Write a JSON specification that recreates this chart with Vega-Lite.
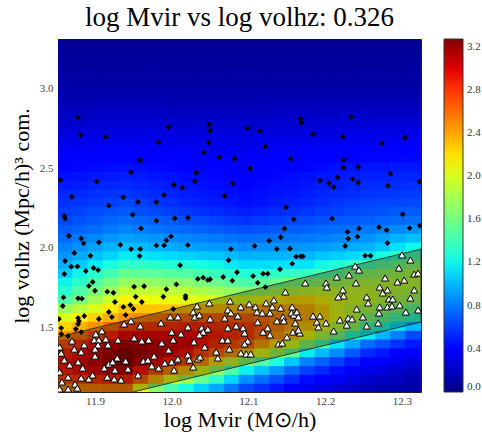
{
"$schema":"https://vega.github.io/schema/vega-lite/v6.json",
"width":363,"height":353,
"autosize":"none",
"padding":{"left":58,"top":39,"right":61,"bottom":40},
"background":"white",
"title":{"text":"log Mvir vs log volhz: 0.326","font":"Liberation Serif","fontSize":27,"fontWeight":"normal","color":"black","offset":7,"anchor":"middle"},
"config":{"view":{"stroke":"#222","strokeWidth":1},"axis":{"grid":false,"domain":false}},
"datasets":{
"grid":[
{"x":11.862,"y":1.122,"z":2.49},{"x":11.881,"y":1.122,"z":2.5},{"x":11.901,"y":1.122,"z":2.52},{"x":11.921,"y":1.122,"z":2.54},{"x":11.941,"y":1.122,"z":2.55},{"x":11.96,"y":1.122,"z":2.1},{"x":11.98,"y":1.122,"z":1.7},{"x":12,"y":1.122,"z":1.45},{"x":12.019,"y":1.122,"z":1.25},{"x":12.039,"y":1.122,"z":1.1},{"x":12.059,"y":1.122,"z":0.95},{"x":12.079,"y":1.122,"z":0.79},{"x":12.098,"y":1.122,"z":0.64},{"x":12.118,"y":1.122,"z":0.56},{"x":12.138,"y":1.122,"z":0.48},{"x":12.157,"y":1.122,"z":0.4},{"x":12.177,"y":1.122,"z":0.32},{"x":12.197,"y":1.122,"z":0.28},{"x":12.216,"y":1.122,"z":0.24},{"x":12.236,"y":1.122,"z":0.2},{"x":12.256,"y":1.122,"z":0.16},{"x":12.276,"y":1.122,"z":0.14},{"x":12.295,"y":1.122,"z":0.13},{"x":12.315,"y":1.122,"z":0.11},
{"x":11.862,"y":1.177,"z":2.72},{"x":11.881,"y":1.177,"z":2.76},{"x":11.901,"y":1.177,"z":2.79},{"x":11.921,"y":1.177,"z":2.83},{"x":11.941,"y":1.177,"z":2.86},{"x":11.96,"y":1.177,"z":2.6},{"x":11.98,"y":1.177,"z":2.33},{"x":12,"y":1.177,"z":2.07},{"x":12.019,"y":1.177,"z":1.8},{"x":12.039,"y":1.177,"z":1.57},{"x":12.059,"y":1.177,"z":1.34},{"x":12.079,"y":1.177,"z":1.1},{"x":12.098,"y":1.177,"z":0.87},{"x":12.118,"y":1.177,"z":0.76},{"x":12.138,"y":1.177,"z":0.66},{"x":12.157,"y":1.177,"z":0.55},{"x":12.177,"y":1.177,"z":0.44},{"x":12.197,"y":1.177,"z":0.39},{"x":12.216,"y":1.177,"z":0.33},{"x":12.236,"y":1.177,"z":0.28},{"x":12.256,"y":1.177,"z":0.22},{"x":12.276,"y":1.177,"z":0.19},{"x":12.295,"y":1.177,"z":0.17},{"x":12.315,"y":1.177,"z":0.14},
{"x":11.862,"y":1.233,"z":2.86},{"x":11.881,"y":1.233,"z":2.92},{"x":11.901,"y":1.233,"z":2.98},{"x":11.921,"y":1.233,"z":3.04},{"x":11.941,"y":1.233,"z":3.1},{"x":11.96,"y":1.233,"z":2.9},{"x":11.98,"y":1.233,"z":2.7},{"x":12,"y":1.233,"z":2.5},{"x":12.019,"y":1.233,"z":2.3},{"x":12.039,"y":1.233,"z":2.02},{"x":12.059,"y":1.233,"z":1.74},{"x":12.079,"y":1.233,"z":1.46},{"x":12.098,"y":1.233,"z":1.18},{"x":12.118,"y":1.233,"z":1.04},{"x":12.138,"y":1.233,"z":0.9},{"x":12.157,"y":1.233,"z":0.75},{"x":12.177,"y":1.233,"z":0.61},{"x":12.197,"y":1.233,"z":0.53},{"x":12.216,"y":1.233,"z":0.45},{"x":12.236,"y":1.233,"z":0.37},{"x":12.256,"y":1.233,"z":0.29},{"x":12.276,"y":1.233,"z":0.26},{"x":12.295,"y":1.233,"z":0.22},{"x":12.315,"y":1.233,"z":0.19},
{"x":11.862,"y":1.288,"z":2.9},{"x":11.881,"y":1.288,"z":2.98},{"x":11.901,"y":1.288,"z":3.06},{"x":11.921,"y":1.288,"z":3.14},{"x":11.941,"y":1.288,"z":3.22},{"x":11.96,"y":1.288,"z":3.09},{"x":11.98,"y":1.288,"z":2.96},{"x":12,"y":1.288,"z":2.83},{"x":12.019,"y":1.288,"z":2.7},{"x":12.039,"y":1.288,"z":2.45},{"x":12.059,"y":1.288,"z":2.2},{"x":12.079,"y":1.288,"z":1.95},{"x":12.098,"y":1.288,"z":1.7},{"x":12.118,"y":1.288,"z":1.48},{"x":12.138,"y":1.288,"z":1.27},{"x":12.157,"y":1.288,"z":1.05},{"x":12.177,"y":1.288,"z":0.83},{"x":12.197,"y":1.288,"z":0.72},{"x":12.216,"y":1.288,"z":0.61},{"x":12.236,"y":1.288,"z":0.5},{"x":12.256,"y":1.288,"z":0.39},{"x":12.276,"y":1.288,"z":0.35},{"x":12.295,"y":1.288,"z":0.3},{"x":12.315,"y":1.288,"z":0.26},
{"x":11.862,"y":1.344,"z":2.84},{"x":11.881,"y":1.344,"z":2.94},{"x":11.901,"y":1.344,"z":3.04},{"x":11.921,"y":1.344,"z":3.13},{"x":11.941,"y":1.344,"z":3.23},{"x":11.96,"y":1.344,"z":3.15},{"x":11.98,"y":1.344,"z":3.08},{"x":12,"y":1.344,"z":3},{"x":12.019,"y":1.344,"z":2.92},{"x":12.039,"y":1.344,"z":2.72},{"x":12.059,"y":1.344,"z":2.6},{"x":12.079,"y":1.344,"z":2.45},{"x":12.098,"y":1.344,"z":2.3},{"x":12.118,"y":1.344,"z":2.05},{"x":12.138,"y":1.344,"z":1.8},{"x":12.157,"y":1.344,"z":1.55},{"x":12.177,"y":1.344,"z":1.17},{"x":12.197,"y":1.344,"z":1.01},{"x":12.216,"y":1.344,"z":0.86},{"x":12.236,"y":1.344,"z":0.7},{"x":12.256,"y":1.344,"z":0.54},{"x":12.276,"y":1.344,"z":0.48},{"x":12.295,"y":1.344,"z":0.41},{"x":12.315,"y":1.344,"z":0.35},
{"x":11.862,"y":1.399,"z":2.68},{"x":11.881,"y":1.399,"z":2.79},{"x":11.901,"y":1.399,"z":2.91},{"x":11.921,"y":1.399,"z":3.02},{"x":11.941,"y":1.399,"z":3.13},{"x":11.96,"y":1.399,"z":3.1},{"x":11.98,"y":1.399,"z":3.06},{"x":12,"y":1.399,"z":3.03},{"x":12.019,"y":1.399,"z":2.99},{"x":12.039,"y":1.399,"z":2.9},{"x":12.059,"y":1.399,"z":2.8},{"x":12.079,"y":1.399,"z":2.7},{"x":12.098,"y":1.399,"z":2.6},{"x":12.118,"y":1.399,"z":2.4},{"x":12.138,"y":1.399,"z":2.2},{"x":12.157,"y":1.399,"z":2},{"x":12.177,"y":1.399,"z":1.7},{"x":12.197,"y":1.399,"z":1.45},{"x":12.216,"y":1.399,"z":1.14},{"x":12.236,"y":1.399,"z":0.95},{"x":12.256,"y":1.399,"z":0.76},{"x":12.276,"y":1.399,"z":0.67},{"x":12.295,"y":1.399,"z":0.57},{"x":12.315,"y":1.399,"z":0.48},
{"x":11.862,"y":1.455,"z":2.44},{"x":11.881,"y":1.455,"z":2.57},{"x":11.901,"y":1.455,"z":2.7},{"x":11.921,"y":1.455,"z":2.83},{"x":11.941,"y":1.455,"z":2.96},{"x":11.96,"y":1.455,"z":2.96},{"x":11.98,"y":1.455,"z":2.96},{"x":12,"y":1.455,"z":2.96},{"x":12.019,"y":1.455,"z":2.96},{"x":12.039,"y":1.455,"z":2.92},{"x":12.059,"y":1.455,"z":2.86},{"x":12.079,"y":1.455,"z":2.8},{"x":12.098,"y":1.455,"z":2.75},{"x":12.118,"y":1.455,"z":2.6},{"x":12.138,"y":1.455,"z":2.45},{"x":12.157,"y":1.455,"z":2.28},{"x":12.177,"y":1.455,"z":2.1},{"x":12.197,"y":1.455,"z":1.85},{"x":12.216,"y":1.455,"z":1.65},{"x":12.236,"y":1.455,"z":1.34},{"x":12.256,"y":1.455,"z":1.17},{"x":12.276,"y":1.455,"z":0.99},{"x":12.295,"y":1.455,"z":0.82},{"x":12.315,"y":1.455,"z":0.64},
{"x":11.862,"y":1.51,"z":2.24},{"x":11.881,"y":1.51,"z":2.36},{"x":11.901,"y":1.51,"z":2.48},{"x":11.921,"y":1.51,"z":2.6},{"x":11.941,"y":1.51,"z":2.72},{"x":11.96,"y":1.51,"z":2.75},{"x":11.98,"y":1.51,"z":2.78},{"x":12,"y":1.51,"z":2.8},{"x":12.019,"y":1.51,"z":2.83},{"x":12.039,"y":1.51,"z":2.82},{"x":12.059,"y":1.51,"z":2.8},{"x":12.079,"y":1.51,"z":2.77},{"x":12.098,"y":1.51,"z":2.75},{"x":12.118,"y":1.51,"z":2.63},{"x":12.138,"y":1.51,"z":2.52},{"x":12.157,"y":1.51,"z":2.4},{"x":12.177,"y":1.51,"z":2.28},{"x":12.197,"y":1.51,"z":2.1},{"x":12.216,"y":1.51,"z":1.9},{"x":12.236,"y":1.51,"z":1.72},{"x":12.256,"y":1.51,"z":1.43},{"x":12.276,"y":1.51,"z":1.29},{"x":12.295,"y":1.51,"z":1.14},{"x":12.315,"y":1.51,"z":1},
{"x":11.862,"y":1.566,"z":2.02},{"x":11.881,"y":1.566,"z":2.13},{"x":11.901,"y":1.566,"z":2.25},{"x":11.921,"y":1.566,"z":2.36},{"x":11.941,"y":1.566,"z":2.47},{"x":11.96,"y":1.566,"z":2.51},{"x":11.98,"y":1.566,"z":2.54},{"x":12,"y":1.566,"z":2.58},{"x":12.019,"y":1.566,"z":2.61},{"x":12.039,"y":1.566,"z":2.62},{"x":12.059,"y":1.566,"z":2.62},{"x":12.079,"y":1.566,"z":2.62},{"x":12.098,"y":1.566,"z":2.62},{"x":12.118,"y":1.566,"z":2.56},{"x":12.138,"y":1.566,"z":2.5},{"x":12.157,"y":1.566,"z":2.44},{"x":12.177,"y":1.566,"z":2.38},{"x":12.197,"y":1.566,"z":2.22},{"x":12.216,"y":1.566,"z":2.06},{"x":12.236,"y":1.566,"z":1.9},{"x":12.256,"y":1.566,"z":1.67},{"x":12.276,"y":1.566,"z":1.56},{"x":12.295,"y":1.566,"z":1.44},{"x":12.315,"y":1.566,"z":1.33},
{"x":11.862,"y":1.621,"z":1.75},{"x":11.881,"y":1.621,"z":1.89},{"x":11.901,"y":1.621,"z":2.02},{"x":11.921,"y":1.621,"z":2.16},{"x":11.941,"y":1.621,"z":2.29},{"x":11.96,"y":1.621,"z":2.29},{"x":11.98,"y":1.621,"z":2.29},{"x":12,"y":1.621,"z":2.29},{"x":12.019,"y":1.621,"z":2.29},{"x":12.039,"y":1.621,"z":2.3},{"x":12.059,"y":1.621,"z":2.3},{"x":12.079,"y":1.621,"z":2.31},{"x":12.098,"y":1.621,"z":2.4},{"x":12.118,"y":1.621,"z":2.4},{"x":12.138,"y":1.621,"z":2.4},{"x":12.157,"y":1.621,"z":2.38},{"x":12.177,"y":1.621,"z":2.35},{"x":12.197,"y":1.621,"z":2.22},{"x":12.216,"y":1.621,"z":2.03},{"x":12.236,"y":1.621,"z":1.93},{"x":12.256,"y":1.621,"z":1.83},{"x":12.276,"y":1.621,"z":1.74},{"x":12.295,"y":1.621,"z":1.65},{"x":12.315,"y":1.621,"z":1.56},
{"x":11.862,"y":1.677,"z":1.45},{"x":11.881,"y":1.677,"z":1.62},{"x":11.901,"y":1.677,"z":1.79},{"x":11.921,"y":1.677,"z":1.96},{"x":11.941,"y":1.677,"z":2.13},{"x":11.96,"y":1.677,"z":2.11},{"x":11.98,"y":1.677,"z":2.09},{"x":12,"y":1.677,"z":2.07},{"x":12.019,"y":1.677,"z":2.05},{"x":12.039,"y":1.677,"z":2.04},{"x":12.059,"y":1.677,"z":2.03},{"x":12.079,"y":1.677,"z":2.02},{"x":12.098,"y":1.677,"z":2.01},{"x":12.118,"y":1.677,"z":2.1},{"x":12.138,"y":1.677,"z":2.15},{"x":12.157,"y":1.677,"z":2.2},{"x":12.177,"y":1.677,"z":2.2},{"x":12.197,"y":1.677,"z":2.12},{"x":12.216,"y":1.677,"z":2.04},{"x":12.236,"y":1.677,"z":1.99},{"x":12.256,"y":1.677,"z":1.94},{"x":12.276,"y":1.677,"z":1.88},{"x":12.295,"y":1.677,"z":1.81},{"x":12.315,"y":1.677,"z":1.75},
{"x":11.862,"y":1.732,"z":1.3},{"x":11.881,"y":1.732,"z":1.46},{"x":11.901,"y":1.732,"z":1.62},{"x":11.921,"y":1.732,"z":1.77},{"x":11.941,"y":1.732,"z":1.93},{"x":11.96,"y":1.732,"z":1.92},{"x":11.98,"y":1.732,"z":1.91},{"x":12,"y":1.732,"z":1.9},{"x":12.019,"y":1.732,"z":1.89},{"x":12.039,"y":1.732,"z":1.84},{"x":12.059,"y":1.732,"z":1.79},{"x":12.079,"y":1.732,"z":1.73},{"x":12.098,"y":1.732,"z":1.68},{"x":12.118,"y":1.732,"z":1.74},{"x":12.138,"y":1.732,"z":1.81},{"x":12.157,"y":1.732,"z":1.87},{"x":12.177,"y":1.732,"z":1.93},{"x":12.197,"y":1.732,"z":1.94},{"x":12.216,"y":1.732,"z":1.94},{"x":12.236,"y":1.732,"z":1.95},{"x":12.256,"y":1.732,"z":1.95},{"x":12.276,"y":1.732,"z":1.92},{"x":12.295,"y":1.732,"z":1.89},{"x":12.315,"y":1.732,"z":1.86},
{"x":11.862,"y":1.788,"z":1.19},{"x":11.881,"y":1.788,"z":1.33},{"x":11.901,"y":1.788,"z":1.47},{"x":11.921,"y":1.788,"z":1.6},{"x":11.941,"y":1.788,"z":1.74},{"x":11.96,"y":1.788,"z":1.73},{"x":11.98,"y":1.788,"z":1.72},{"x":12,"y":1.788,"z":1.7},{"x":12.019,"y":1.788,"z":1.69},{"x":12.039,"y":1.788,"z":1.63},{"x":12.059,"y":1.788,"z":1.57},{"x":12.079,"y":1.788,"z":1.5},{"x":12.098,"y":1.788,"z":1.44},{"x":12.118,"y":1.788,"z":1.5},{"x":12.138,"y":1.788,"z":1.56},{"x":12.157,"y":1.788,"z":1.61},{"x":12.177,"y":1.788,"z":1.67},{"x":12.197,"y":1.788,"z":1.72},{"x":12.216,"y":1.788,"z":1.77},{"x":12.236,"y":1.788,"z":1.82},{"x":12.256,"y":1.788,"z":1.87},{"x":12.276,"y":1.788,"z":1.88},{"x":12.295,"y":1.788,"z":1.89},{"x":12.315,"y":1.788,"z":1.9},
{"x":11.862,"y":1.843,"z":1.07},{"x":11.881,"y":1.843,"z":1.19},{"x":11.901,"y":1.843,"z":1.31},{"x":11.921,"y":1.843,"z":1.42},{"x":11.941,"y":1.843,"z":1.54},{"x":11.96,"y":1.843,"z":1.52},{"x":11.98,"y":1.843,"z":1.51},{"x":12,"y":1.843,"z":1.49},{"x":12.019,"y":1.843,"z":1.47},{"x":12.039,"y":1.843,"z":1.42},{"x":12.059,"y":1.843,"z":1.37},{"x":12.079,"y":1.843,"z":1.32},{"x":12.098,"y":1.843,"z":1.27},{"x":12.118,"y":1.843,"z":1.3},{"x":12.138,"y":1.843,"z":1.32},{"x":12.157,"y":1.843,"z":1.35},{"x":12.177,"y":1.843,"z":1.37},{"x":12.197,"y":1.843,"z":1.45},{"x":12.216,"y":1.843,"z":1.53},{"x":12.236,"y":1.843,"z":1.61},{"x":12.256,"y":1.843,"z":1.69},{"x":12.276,"y":1.843,"z":1.74},{"x":12.295,"y":1.843,"z":1.79},{"x":12.315,"y":1.843,"z":1.84},
{"x":11.862,"y":1.899,"z":0.97},{"x":11.881,"y":1.899,"z":1.06},{"x":11.901,"y":1.899,"z":1.16},{"x":11.921,"y":1.899,"z":1.25},{"x":11.941,"y":1.899,"z":1.34},{"x":11.96,"y":1.899,"z":1.32},{"x":11.98,"y":1.899,"z":1.31},{"x":12,"y":1.899,"z":1.29},{"x":12.019,"y":1.899,"z":1.27},{"x":12.039,"y":1.899,"z":1.23},{"x":12.059,"y":1.899,"z":1.2},{"x":12.079,"y":1.899,"z":1.16},{"x":12.098,"y":1.899,"z":1.12},{"x":12.118,"y":1.899,"z":1.12},{"x":12.138,"y":1.899,"z":1.13},{"x":12.157,"y":1.899,"z":1.14},{"x":12.177,"y":1.899,"z":1.14},{"x":12.197,"y":1.899,"z":1.21},{"x":12.216,"y":1.899,"z":1.28},{"x":12.236,"y":1.899,"z":1.35},{"x":12.256,"y":1.899,"z":1.42},{"x":12.276,"y":1.899,"z":1.51},{"x":12.295,"y":1.899,"z":1.6},{"x":12.315,"y":1.899,"z":1.69},
{"x":11.862,"y":1.954,"z":0.89},{"x":11.881,"y":1.954,"z":0.96},{"x":11.901,"y":1.954,"z":1.03},{"x":11.921,"y":1.954,"z":1.09},{"x":11.941,"y":1.954,"z":1.16},{"x":11.96,"y":1.954,"z":1.14},{"x":11.98,"y":1.954,"z":1.13},{"x":12,"y":1.954,"z":1.11},{"x":12.019,"y":1.954,"z":1.09},{"x":12.039,"y":1.954,"z":1.06},{"x":12.059,"y":1.954,"z":1.04},{"x":12.079,"y":1.954,"z":1.01},{"x":12.098,"y":1.954,"z":0.98},{"x":12.118,"y":1.954,"z":0.99},{"x":12.138,"y":1.954,"z":0.99},{"x":12.157,"y":1.954,"z":1},{"x":12.177,"y":1.954,"z":1},{"x":12.197,"y":1.954,"z":1.04},{"x":12.216,"y":1.954,"z":1.07},{"x":12.236,"y":1.954,"z":1.11},{"x":12.256,"y":1.954,"z":1.14},{"x":12.276,"y":1.954,"z":1.24},{"x":12.295,"y":1.954,"z":1.34},{"x":12.315,"y":1.954,"z":1.44},
{"x":11.862,"y":2.01,"z":0.82},{"x":11.881,"y":2.01,"z":0.87},{"x":11.901,"y":2.01,"z":0.93},{"x":11.921,"y":2.01,"z":0.98},{"x":11.941,"y":2.01,"z":1.03},{"x":11.96,"y":2.01,"z":1.01},{"x":11.98,"y":2.01,"z":0.99},{"x":12,"y":2.01,"z":0.96},{"x":12.019,"y":2.01,"z":0.94},{"x":12.039,"y":2.01,"z":0.92},{"x":12.059,"y":2.01,"z":0.9},{"x":12.079,"y":2.01,"z":0.88},{"x":12.098,"y":2.01,"z":0.86},{"x":12.118,"y":2.01,"z":0.87},{"x":12.138,"y":2.01,"z":0.88},{"x":12.157,"y":2.01,"z":0.88},{"x":12.177,"y":2.01,"z":0.89},{"x":12.197,"y":2.01,"z":0.91},{"x":12.216,"y":2.01,"z":0.94},{"x":12.236,"y":2.01,"z":0.96},{"x":12.256,"y":2.01,"z":0.98},{"x":12.276,"y":2.01,"z":1.05},{"x":12.295,"y":2.01,"z":1.13},{"x":12.315,"y":2.01,"z":1.2},
{"x":11.862,"y":2.065,"z":0.75},{"x":11.881,"y":2.065,"z":0.8},{"x":11.901,"y":2.065,"z":0.84},{"x":11.921,"y":2.065,"z":0.89},{"x":11.941,"y":2.065,"z":0.93},{"x":11.96,"y":2.065,"z":0.91},{"x":11.98,"y":2.065,"z":0.89},{"x":12,"y":2.065,"z":0.86},{"x":12.019,"y":2.065,"z":0.84},{"x":12.039,"y":2.065,"z":0.82},{"x":12.059,"y":2.065,"z":0.8},{"x":12.079,"y":2.065,"z":0.78},{"x":12.098,"y":2.065,"z":0.76},{"x":12.118,"y":2.065,"z":0.77},{"x":12.138,"y":2.065,"z":0.78},{"x":12.157,"y":2.065,"z":0.79},{"x":12.177,"y":2.065,"z":0.8},{"x":12.197,"y":2.065,"z":0.82},{"x":12.216,"y":2.065,"z":0.84},{"x":12.236,"y":2.065,"z":0.86},{"x":12.256,"y":2.065,"z":0.88},{"x":12.276,"y":2.065,"z":0.93},{"x":12.295,"y":2.065,"z":0.98},{"x":12.315,"y":2.065,"z":1.03},
{"x":11.862,"y":2.121,"z":0.69},{"x":11.881,"y":2.121,"z":0.73},{"x":11.901,"y":2.121,"z":0.76},{"x":11.921,"y":2.121,"z":0.8},{"x":11.941,"y":2.121,"z":0.83},{"x":11.96,"y":2.121,"z":0.81},{"x":11.98,"y":2.121,"z":0.79},{"x":12,"y":2.121,"z":0.76},{"x":12.019,"y":2.121,"z":0.74},{"x":12.039,"y":2.121,"z":0.72},{"x":12.059,"y":2.121,"z":0.7},{"x":12.079,"y":2.121,"z":0.68},{"x":12.098,"y":2.121,"z":0.66},{"x":12.118,"y":2.121,"z":0.68},{"x":12.138,"y":2.121,"z":0.69},{"x":12.157,"y":2.121,"z":0.71},{"x":12.177,"y":2.121,"z":0.72},{"x":12.197,"y":2.121,"z":0.74},{"x":12.216,"y":2.121,"z":0.76},{"x":12.236,"y":2.121,"z":0.77},{"x":12.256,"y":2.121,"z":0.79},{"x":12.276,"y":2.121,"z":0.82},{"x":12.295,"y":2.121,"z":0.85},{"x":12.315,"y":2.121,"z":0.88},
{"x":11.862,"y":2.176,"z":0.64},{"x":11.881,"y":2.176,"z":0.67},{"x":11.901,"y":2.176,"z":0.7},{"x":11.921,"y":2.176,"z":0.73},{"x":11.941,"y":2.176,"z":0.76},{"x":11.96,"y":2.176,"z":0.74},{"x":11.98,"y":2.176,"z":0.71},{"x":12,"y":2.176,"z":0.69},{"x":12.019,"y":2.176,"z":0.66},{"x":12.039,"y":2.176,"z":0.64},{"x":12.059,"y":2.176,"z":0.62},{"x":12.079,"y":2.176,"z":0.59},{"x":12.098,"y":2.176,"z":0.57},{"x":12.118,"y":2.176,"z":0.59},{"x":12.138,"y":2.176,"z":0.61},{"x":12.157,"y":2.176,"z":0.63},{"x":12.177,"y":2.176,"z":0.65},{"x":12.197,"y":2.176,"z":0.67},{"x":12.216,"y":2.176,"z":0.69},{"x":12.236,"y":2.176,"z":0.7},{"x":12.256,"y":2.176,"z":0.72},{"x":12.276,"y":2.176,"z":0.74},{"x":12.295,"y":2.176,"z":0.75},{"x":12.315,"y":2.176,"z":0.77},
{"x":11.862,"y":2.232,"z":0.6},{"x":11.881,"y":2.232,"z":0.62},{"x":11.901,"y":2.232,"z":0.65},{"x":11.921,"y":2.232,"z":0.67},{"x":11.941,"y":2.232,"z":0.69},{"x":11.96,"y":2.232,"z":0.66},{"x":11.98,"y":2.232,"z":0.64},{"x":12,"y":2.232,"z":0.61},{"x":12.019,"y":2.232,"z":0.58},{"x":12.039,"y":2.232,"z":0.56},{"x":12.059,"y":2.232,"z":0.54},{"x":12.079,"y":2.232,"z":0.52},{"x":12.098,"y":2.232,"z":0.5},{"x":12.118,"y":2.232,"z":0.52},{"x":12.138,"y":2.232,"z":0.54},{"x":12.157,"y":2.232,"z":0.56},{"x":12.177,"y":2.232,"z":0.58},{"x":12.197,"y":2.232,"z":0.6},{"x":12.216,"y":2.232,"z":0.62},{"x":12.236,"y":2.232,"z":0.64},{"x":12.256,"y":2.232,"z":0.66},{"x":12.276,"y":2.232,"z":0.67},{"x":12.295,"y":2.232,"z":0.69},{"x":12.315,"y":2.232,"z":0.7},
{"x":11.862,"y":2.288,"z":0.56},{"x":11.881,"y":2.288,"z":0.58},{"x":11.901,"y":2.288,"z":0.6},{"x":11.921,"y":2.288,"z":0.61},{"x":11.941,"y":2.288,"z":0.63},{"x":11.96,"y":2.288,"z":0.61},{"x":11.98,"y":2.288,"z":0.58},{"x":12,"y":2.288,"z":0.56},{"x":12.019,"y":2.288,"z":0.53},{"x":12.039,"y":2.288,"z":0.51},{"x":12.059,"y":2.288,"z":0.49},{"x":12.079,"y":2.288,"z":0.47},{"x":12.098,"y":2.288,"z":0.45},{"x":12.118,"y":2.288,"z":0.47},{"x":12.138,"y":2.288,"z":0.49},{"x":12.157,"y":2.288,"z":0.51},{"x":12.177,"y":2.288,"z":0.53},{"x":12.197,"y":2.288,"z":0.55},{"x":12.216,"y":2.288,"z":0.58},{"x":12.236,"y":2.288,"z":0.6},{"x":12.256,"y":2.288,"z":0.62},{"x":12.276,"y":2.288,"z":0.63},{"x":12.295,"y":2.288,"z":0.63},{"x":12.315,"y":2.288,"z":0.64},
{"x":11.862,"y":2.343,"z":0.53},{"x":11.881,"y":2.343,"z":0.54},{"x":11.901,"y":2.343,"z":0.56},{"x":11.921,"y":2.343,"z":0.57},{"x":11.941,"y":2.343,"z":0.58},{"x":11.96,"y":2.343,"z":0.56},{"x":11.98,"y":2.343,"z":0.54},{"x":12,"y":2.343,"z":0.52},{"x":12.019,"y":2.343,"z":0.5},{"x":12.039,"y":2.343,"z":0.48},{"x":12.059,"y":2.343,"z":0.47},{"x":12.079,"y":2.343,"z":0.45},{"x":12.098,"y":2.343,"z":0.43},{"x":12.118,"y":2.343,"z":0.45},{"x":12.138,"y":2.343,"z":0.47},{"x":12.157,"y":2.343,"z":0.48},{"x":12.177,"y":2.343,"z":0.5},{"x":12.197,"y":2.343,"z":0.52},{"x":12.216,"y":2.343,"z":0.54},{"x":12.236,"y":2.343,"z":0.55},{"x":12.256,"y":2.343,"z":0.57},{"x":12.276,"y":2.343,"z":0.58},{"x":12.295,"y":2.343,"z":0.59},{"x":12.315,"y":2.343,"z":0.6},
{"x":11.862,"y":2.399,"z":0.49},{"x":11.881,"y":2.399,"z":0.5},{"x":11.901,"y":2.399,"z":0.52},{"x":11.921,"y":2.399,"z":0.53},{"x":11.941,"y":2.399,"z":0.54},{"x":11.96,"y":2.399,"z":0.52},{"x":11.98,"y":2.399,"z":0.51},{"x":12,"y":2.399,"z":0.49},{"x":12.019,"y":2.399,"z":0.47},{"x":12.039,"y":2.399,"z":0.46},{"x":12.059,"y":2.399,"z":0.44},{"x":12.079,"y":2.399,"z":0.43},{"x":12.098,"y":2.399,"z":0.41},{"x":12.118,"y":2.399,"z":0.43},{"x":12.138,"y":2.399,"z":0.45},{"x":12.157,"y":2.399,"z":0.46},{"x":12.177,"y":2.399,"z":0.48},{"x":12.197,"y":2.399,"z":0.5},{"x":12.216,"y":2.399,"z":0.51},{"x":12.236,"y":2.399,"z":0.53},{"x":12.256,"y":2.399,"z":0.54},{"x":12.276,"y":2.399,"z":0.55},{"x":12.295,"y":2.399,"z":0.55},{"x":12.315,"y":2.399,"z":0.56},
{"x":11.862,"y":2.454,"z":0.45},{"x":11.881,"y":2.454,"z":0.46},{"x":11.901,"y":2.454,"z":0.48},{"x":11.921,"y":2.454,"z":0.49},{"x":11.941,"y":2.454,"z":0.5},{"x":11.96,"y":2.454,"z":0.49},{"x":11.98,"y":2.454,"z":0.47},{"x":12,"y":2.454,"z":0.46},{"x":12.019,"y":2.454,"z":0.44},{"x":12.039,"y":2.454,"z":0.43},{"x":12.059,"y":2.454,"z":0.42},{"x":12.079,"y":2.454,"z":0.4},{"x":12.098,"y":2.454,"z":0.39},{"x":12.118,"y":2.454,"z":0.41},{"x":12.138,"y":2.454,"z":0.42},{"x":12.157,"y":2.454,"z":0.44},{"x":12.177,"y":2.454,"z":0.45},{"x":12.197,"y":2.454,"z":0.47},{"x":12.216,"y":2.454,"z":0.48},{"x":12.236,"y":2.454,"z":0.5},{"x":12.256,"y":2.454,"z":0.51},{"x":12.276,"y":2.454,"z":0.51},{"x":12.295,"y":2.454,"z":0.52},{"x":12.315,"y":2.454,"z":0.52},
{"x":11.862,"y":2.51,"z":0.41},{"x":11.881,"y":2.51,"z":0.42},{"x":11.901,"y":2.51,"z":0.43},{"x":11.921,"y":2.51,"z":0.44},{"x":11.941,"y":2.51,"z":0.45},{"x":11.96,"y":2.51,"z":0.44},{"x":11.98,"y":2.51,"z":0.43},{"x":12,"y":2.51,"z":0.42},{"x":12.019,"y":2.51,"z":0.41},{"x":12.039,"y":2.51,"z":0.4},{"x":12.059,"y":2.51,"z":0.39},{"x":12.079,"y":2.51,"z":0.38},{"x":12.098,"y":2.51,"z":0.37},{"x":12.118,"y":2.51,"z":0.38},{"x":12.138,"y":2.51,"z":0.4},{"x":12.157,"y":2.51,"z":0.41},{"x":12.177,"y":2.51,"z":0.42},{"x":12.197,"y":2.51,"z":0.43},{"x":12.216,"y":2.51,"z":0.45},{"x":12.236,"y":2.51,"z":0.46},{"x":12.256,"y":2.51,"z":0.47},{"x":12.276,"y":2.51,"z":0.47},{"x":12.295,"y":2.51,"z":0.48},{"x":12.315,"y":2.51,"z":0.48},
{"x":11.862,"y":2.565,"z":0.37},{"x":11.881,"y":2.565,"z":0.38},{"x":11.901,"y":2.565,"z":0.39},{"x":11.921,"y":2.565,"z":0.39},{"x":11.941,"y":2.565,"z":0.4},{"x":11.96,"y":2.565,"z":0.39},{"x":11.98,"y":2.565,"z":0.39},{"x":12,"y":2.565,"z":0.38},{"x":12.019,"y":2.565,"z":0.37},{"x":12.039,"y":2.565,"z":0.36},{"x":12.059,"y":2.565,"z":0.36},{"x":12.079,"y":2.565,"z":0.35},{"x":12.098,"y":2.565,"z":0.34},{"x":12.118,"y":2.565,"z":0.35},{"x":12.138,"y":2.565,"z":0.36},{"x":12.157,"y":2.565,"z":0.37},{"x":12.177,"y":2.565,"z":0.38},{"x":12.197,"y":2.565,"z":0.39},{"x":12.216,"y":2.565,"z":0.4},{"x":12.236,"y":2.565,"z":0.41},{"x":12.256,"y":2.565,"z":0.42},{"x":12.276,"y":2.565,"z":0.42},{"x":12.295,"y":2.565,"z":0.43},{"x":12.315,"y":2.565,"z":0.43},
{"x":11.862,"y":2.621,"z":0.33},{"x":11.881,"y":2.621,"z":0.33},{"x":11.901,"y":2.621,"z":0.34},{"x":11.921,"y":2.621,"z":0.35},{"x":11.941,"y":2.621,"z":0.35},{"x":11.96,"y":2.621,"z":0.35},{"x":11.98,"y":2.621,"z":0.34},{"x":12,"y":2.621,"z":0.34},{"x":12.019,"y":2.621,"z":0.33},{"x":12.039,"y":2.621,"z":0.33},{"x":12.059,"y":2.621,"z":0.32},{"x":12.079,"y":2.621,"z":0.32},{"x":12.098,"y":2.621,"z":0.31},{"x":12.118,"y":2.621,"z":0.32},{"x":12.138,"y":2.621,"z":0.33},{"x":12.157,"y":2.621,"z":0.33},{"x":12.177,"y":2.621,"z":0.34},{"x":12.197,"y":2.621,"z":0.35},{"x":12.216,"y":2.621,"z":0.36},{"x":12.236,"y":2.621,"z":0.36},{"x":12.256,"y":2.621,"z":0.37},{"x":12.276,"y":2.621,"z":0.37},{"x":12.295,"y":2.621,"z":0.38},{"x":12.315,"y":2.621,"z":0.38},
{"x":11.862,"y":2.676,"z":0.29},{"x":11.881,"y":2.676,"z":0.3},{"x":11.901,"y":2.676,"z":0.3},{"x":11.921,"y":2.676,"z":0.31},{"x":11.941,"y":2.676,"z":0.31},{"x":11.96,"y":2.676,"z":0.31},{"x":11.98,"y":2.676,"z":0.3},{"x":12,"y":2.676,"z":0.3},{"x":12.019,"y":2.676,"z":0.29},{"x":12.039,"y":2.676,"z":0.29},{"x":12.059,"y":2.676,"z":0.29},{"x":12.079,"y":2.676,"z":0.28},{"x":12.098,"y":2.676,"z":0.28},{"x":12.118,"y":2.676,"z":0.29},{"x":12.138,"y":2.676,"z":0.29},{"x":12.157,"y":2.676,"z":0.3},{"x":12.177,"y":2.676,"z":0.3},{"x":12.197,"y":2.676,"z":0.31},{"x":12.216,"y":2.676,"z":0.31},{"x":12.236,"y":2.676,"z":0.32},{"x":12.256,"y":2.676,"z":0.32},{"x":12.276,"y":2.676,"z":0.32},{"x":12.295,"y":2.676,"z":0.33},{"x":12.315,"y":2.676,"z":0.33},
{"x":11.862,"y":2.732,"z":0.25},{"x":11.881,"y":2.732,"z":0.26},{"x":11.901,"y":2.732,"z":0.26},{"x":11.921,"y":2.732,"z":0.27},{"x":11.941,"y":2.732,"z":0.27},{"x":11.96,"y":2.732,"z":0.27},{"x":11.98,"y":2.732,"z":0.27},{"x":12,"y":2.732,"z":0.26},{"x":12.019,"y":2.732,"z":0.26},{"x":12.039,"y":2.732,"z":0.26},{"x":12.059,"y":2.732,"z":0.26},{"x":12.079,"y":2.732,"z":0.25},{"x":12.098,"y":2.732,"z":0.25},{"x":12.118,"y":2.732,"z":0.25},{"x":12.138,"y":2.732,"z":0.26},{"x":12.157,"y":2.732,"z":0.26},{"x":12.177,"y":2.732,"z":0.26},{"x":12.197,"y":2.732,"z":0.27},{"x":12.216,"y":2.732,"z":0.27},{"x":12.236,"y":2.732,"z":0.28},{"x":12.256,"y":2.732,"z":0.28},{"x":12.276,"y":2.732,"z":0.28},{"x":12.295,"y":2.732,"z":0.28},{"x":12.315,"y":2.732,"z":0.28},
{"x":11.862,"y":2.787,"z":0.22},{"x":11.881,"y":2.787,"z":0.22},{"x":11.901,"y":2.787,"z":0.23},{"x":11.921,"y":2.787,"z":0.23},{"x":11.941,"y":2.787,"z":0.23},{"x":11.96,"y":2.787,"z":0.23},{"x":11.98,"y":2.787,"z":0.23},{"x":12,"y":2.787,"z":0.22},{"x":12.019,"y":2.787,"z":0.22},{"x":12.039,"y":2.787,"z":0.22},{"x":12.059,"y":2.787,"z":0.22},{"x":12.079,"y":2.787,"z":0.22},{"x":12.098,"y":2.787,"z":0.22},{"x":12.118,"y":2.787,"z":0.22},{"x":12.138,"y":2.787,"z":0.23},{"x":12.157,"y":2.787,"z":0.23},{"x":12.177,"y":2.787,"z":0.23},{"x":12.197,"y":2.787,"z":0.23},{"x":12.216,"y":2.787,"z":0.24},{"x":12.236,"y":2.787,"z":0.24},{"x":12.256,"y":2.787,"z":0.24},{"x":12.276,"y":2.787,"z":0.24},{"x":12.295,"y":2.787,"z":0.24},{"x":12.315,"y":2.787,"z":0.24},
{"x":11.862,"y":2.843,"z":0.19},{"x":11.881,"y":2.843,"z":0.19},{"x":11.901,"y":2.843,"z":0.2},{"x":11.921,"y":2.843,"z":0.2},{"x":11.941,"y":2.843,"z":0.2},{"x":11.96,"y":2.843,"z":0.2},{"x":11.98,"y":2.843,"z":0.2},{"x":12,"y":2.843,"z":0.19},{"x":12.019,"y":2.843,"z":0.19},{"x":12.039,"y":2.843,"z":0.19},{"x":12.059,"y":2.843,"z":0.19},{"x":12.079,"y":2.843,"z":0.19},{"x":12.098,"y":2.843,"z":0.19},{"x":12.118,"y":2.843,"z":0.19},{"x":12.138,"y":2.843,"z":0.2},{"x":12.157,"y":2.843,"z":0.2},{"x":12.177,"y":2.843,"z":0.2},{"x":12.197,"y":2.843,"z":0.2},{"x":12.216,"y":2.843,"z":0.2},{"x":12.236,"y":2.843,"z":0.2},{"x":12.256,"y":2.843,"z":0.2},{"x":12.276,"y":2.843,"z":0.2},{"x":12.295,"y":2.843,"z":0.2},{"x":12.315,"y":2.843,"z":0.2},
{"x":11.862,"y":2.898,"z":0.16},{"x":11.881,"y":2.898,"z":0.16},{"x":11.901,"y":2.898,"z":0.17},{"x":11.921,"y":2.898,"z":0.17},{"x":11.941,"y":2.898,"z":0.17},{"x":11.96,"y":2.898,"z":0.17},{"x":11.98,"y":2.898,"z":0.17},{"x":12,"y":2.898,"z":0.16},{"x":12.019,"y":2.898,"z":0.16},{"x":12.039,"y":2.898,"z":0.16},{"x":12.059,"y":2.898,"z":0.16},{"x":12.079,"y":2.898,"z":0.16},{"x":12.098,"y":2.898,"z":0.16},{"x":12.118,"y":2.898,"z":0.16},{"x":12.138,"y":2.898,"z":0.17},{"x":12.157,"y":2.898,"z":0.17},{"x":12.177,"y":2.898,"z":0.17},{"x":12.197,"y":2.898,"z":0.17},{"x":12.216,"y":2.898,"z":0.17},{"x":12.236,"y":2.898,"z":0.17},{"x":12.256,"y":2.898,"z":0.17},{"x":12.276,"y":2.898,"z":0.17},{"x":12.295,"y":2.898,"z":0.17},{"x":12.315,"y":2.898,"z":0.17},
{"x":11.862,"y":2.954,"z":0.14},{"x":11.881,"y":2.954,"z":0.14},{"x":11.901,"y":2.954,"z":0.14},{"x":11.921,"y":2.954,"z":0.14},{"x":11.941,"y":2.954,"z":0.14},{"x":11.96,"y":2.954,"z":0.14},{"x":11.98,"y":2.954,"z":0.14},{"x":12,"y":2.954,"z":0.14},{"x":12.019,"y":2.954,"z":0.14},{"x":12.039,"y":2.954,"z":0.14},{"x":12.059,"y":2.954,"z":0.14},{"x":12.079,"y":2.954,"z":0.14},{"x":12.098,"y":2.954,"z":0.14},{"x":12.118,"y":2.954,"z":0.14},{"x":12.138,"y":2.954,"z":0.14},{"x":12.157,"y":2.954,"z":0.14},{"x":12.177,"y":2.954,"z":0.14},{"x":12.197,"y":2.954,"z":0.14},{"x":12.216,"y":2.954,"z":0.14},{"x":12.236,"y":2.954,"z":0.14},{"x":12.256,"y":2.954,"z":0.14},{"x":12.276,"y":2.954,"z":0.14},{"x":12.295,"y":2.954,"z":0.14},{"x":12.315,"y":2.954,"z":0.14},
{"x":11.862,"y":3.009,"z":0.12},{"x":11.881,"y":3.009,"z":0.12},{"x":11.901,"y":3.009,"z":0.12},{"x":11.921,"y":3.009,"z":0.12},{"x":11.941,"y":3.009,"z":0.12},{"x":11.96,"y":3.009,"z":0.12},{"x":11.98,"y":3.009,"z":0.12},{"x":12,"y":3.009,"z":0.12},{"x":12.019,"y":3.009,"z":0.12},{"x":12.039,"y":3.009,"z":0.12},{"x":12.059,"y":3.009,"z":0.12},{"x":12.079,"y":3.009,"z":0.12},{"x":12.098,"y":3.009,"z":0.12},{"x":12.118,"y":3.009,"z":0.12},{"x":12.138,"y":3.009,"z":0.12},{"x":12.157,"y":3.009,"z":0.12},{"x":12.177,"y":3.009,"z":0.12},{"x":12.197,"y":3.009,"z":0.12},{"x":12.216,"y":3.009,"z":0.12},{"x":12.236,"y":3.009,"z":0.12},{"x":12.256,"y":3.009,"z":0.12},{"x":12.276,"y":3.009,"z":0.12},{"x":12.295,"y":3.009,"z":0.12},{"x":12.315,"y":3.009,"z":0.12},
{"x":11.862,"y":3.065,"z":0.1},{"x":11.881,"y":3.065,"z":0.1},{"x":11.901,"y":3.065,"z":0.1},{"x":11.921,"y":3.065,"z":0.1},{"x":11.941,"y":3.065,"z":0.1},{"x":11.96,"y":3.065,"z":0.1},{"x":11.98,"y":3.065,"z":0.1},{"x":12,"y":3.065,"z":0.1},{"x":12.019,"y":3.065,"z":0.1},{"x":12.039,"y":3.065,"z":0.1},{"x":12.059,"y":3.065,"z":0.1},{"x":12.079,"y":3.065,"z":0.1},{"x":12.098,"y":3.065,"z":0.1},{"x":12.118,"y":3.065,"z":0.1},{"x":12.138,"y":3.065,"z":0.1},{"x":12.157,"y":3.065,"z":0.1},{"x":12.177,"y":3.065,"z":0.1},{"x":12.197,"y":3.065,"z":0.1},{"x":12.216,"y":3.065,"z":0.1},{"x":12.236,"y":3.065,"z":0.1},{"x":12.256,"y":3.065,"z":0.1},{"x":12.276,"y":3.065,"z":0.1},{"x":12.295,"y":3.065,"z":0.1},{"x":12.315,"y":3.065,"z":0.1},
{"x":11.862,"y":3.12,"z":0.09},{"x":11.881,"y":3.12,"z":0.09},{"x":11.901,"y":3.12,"z":0.09},{"x":11.921,"y":3.12,"z":0.09},{"x":11.941,"y":3.12,"z":0.09},{"x":11.96,"y":3.12,"z":0.09},{"x":11.98,"y":3.12,"z":0.09},{"x":12,"y":3.12,"z":0.09},{"x":12.019,"y":3.12,"z":0.09},{"x":12.039,"y":3.12,"z":0.09},{"x":12.059,"y":3.12,"z":0.09},{"x":12.079,"y":3.12,"z":0.09},{"x":12.098,"y":3.12,"z":0.09},{"x":12.118,"y":3.12,"z":0.09},{"x":12.138,"y":3.12,"z":0.09},{"x":12.157,"y":3.12,"z":0.09},{"x":12.177,"y":3.12,"z":0.09},{"x":12.197,"y":3.12,"z":0.09},{"x":12.216,"y":3.12,"z":0.09},{"x":12.236,"y":3.12,"z":0.09},{"x":12.256,"y":3.12,"z":0.09},{"x":12.276,"y":3.12,"z":0.09},{"x":12.295,"y":3.12,"z":0.09},{"x":12.315,"y":3.12,"z":0.09},
{"x":11.862,"y":3.176,"z":0.08},{"x":11.881,"y":3.176,"z":0.08},{"x":11.901,"y":3.176,"z":0.08},{"x":11.921,"y":3.176,"z":0.08},{"x":11.941,"y":3.176,"z":0.08},{"x":11.96,"y":3.176,"z":0.08},{"x":11.98,"y":3.176,"z":0.08},{"x":12,"y":3.176,"z":0.08},{"x":12.019,"y":3.176,"z":0.08},{"x":12.039,"y":3.176,"z":0.08},{"x":12.059,"y":3.176,"z":0.08},{"x":12.079,"y":3.176,"z":0.08},{"x":12.098,"y":3.176,"z":0.08},{"x":12.118,"y":3.176,"z":0.08},{"x":12.138,"y":3.176,"z":0.08},{"x":12.157,"y":3.176,"z":0.08},{"x":12.177,"y":3.176,"z":0.08},{"x":12.197,"y":3.176,"z":0.08},{"x":12.216,"y":3.176,"z":0.08},{"x":12.236,"y":3.176,"z":0.08},{"x":12.256,"y":3.176,"z":0.08},{"x":12.276,"y":3.176,"z":0.08},{"x":12.295,"y":3.176,"z":0.08},{"x":12.315,"y":3.176,"z":0.08},
{"x":11.862,"y":3.231,"z":0.07},{"x":11.881,"y":3.231,"z":0.07},{"x":11.901,"y":3.231,"z":0.07},{"x":11.921,"y":3.231,"z":0.07},{"x":11.941,"y":3.231,"z":0.07},{"x":11.96,"y":3.231,"z":0.07},{"x":11.98,"y":3.231,"z":0.07},{"x":12,"y":3.231,"z":0.07},{"x":12.019,"y":3.231,"z":0.07},{"x":12.039,"y":3.231,"z":0.07},{"x":12.059,"y":3.231,"z":0.07},{"x":12.079,"y":3.231,"z":0.07},{"x":12.098,"y":3.231,"z":0.07},{"x":12.118,"y":3.231,"z":0.07},{"x":12.138,"y":3.231,"z":0.07},{"x":12.157,"y":3.231,"z":0.07},{"x":12.177,"y":3.231,"z":0.07},{"x":12.197,"y":3.231,"z":0.07},{"x":12.216,"y":3.231,"z":0.07},{"x":12.236,"y":3.231,"z":0.07},{"x":12.256,"y":3.231,"z":0.07},{"x":12.276,"y":3.231,"z":0.07},{"x":12.295,"y":3.231,"z":0.07},{"x":12.315,"y":3.231,"z":0.07},
{"x":11.862,"y":3.287,"z":0.06},{"x":11.881,"y":3.287,"z":0.06},{"x":11.901,"y":3.287,"z":0.06},{"x":11.921,"y":3.287,"z":0.06},{"x":11.941,"y":3.287,"z":0.06},{"x":11.96,"y":3.287,"z":0.06},{"x":11.98,"y":3.287,"z":0.06},{"x":12,"y":3.287,"z":0.06},{"x":12.019,"y":3.287,"z":0.06},{"x":12.039,"y":3.287,"z":0.06},{"x":12.059,"y":3.287,"z":0.06},{"x":12.079,"y":3.287,"z":0.06},{"x":12.098,"y":3.287,"z":0.06},{"x":12.118,"y":3.287,"z":0.06},{"x":12.138,"y":3.287,"z":0.06},{"x":12.157,"y":3.287,"z":0.06},{"x":12.177,"y":3.287,"z":0.06},{"x":12.197,"y":3.287,"z":0.06},{"x":12.216,"y":3.287,"z":0.06},{"x":12.236,"y":3.287,"z":0.06},{"x":12.256,"y":3.287,"z":0.06},{"x":12.276,"y":3.287,"z":0.06},{"x":12.295,"y":3.287,"z":0.06},{"x":12.315,"y":3.287,"z":0.06}
],
"band":[{"x":11.8518,"lo":0.979,"hi":1.44},{"x":12.3248,"lo":1.534,"hi":1.993}],
"black":[
{"x":11.878,"y":2.819},{"x":11.881,"y":2.71},{"x":11.914,"y":2.698},{"x":11.996,"y":2.761},{"x":12.049,"y":2.778},{"x":12.05,"y":2.737},{"x":12.099,"y":2.752},{"x":12.115,"y":2.735},{"x":12.168,"y":2.811},{"x":12.169,"y":2.788},{"x":12.234,"y":2.822},{"x":12.184,"y":2.715},{"x":12.223,"y":2.7},{"x":12.304,"y":2.693},{"x":12.274,"y":2.658},{"x":11.983,"y":2.664},{"x":12.048,"y":2.662},{"x":12.122,"y":2.637},{"x":12.042,"y":2.599},{"x":12.062,"y":2.57},{"x":12.082,"y":2.561},{"x":12.155,"y":2.561},{"x":12.224,"y":2.553},{"x":11.959,"y":2.553},{"x":12.102,"y":2.501},{"x":12.224,"y":2.505},{"x":12.243,"y":2.509},{"x":11.947,"y":2.476},{"x":12.032,"y":2.473},{"x":12.285,"y":2.467},{"x":11.855,"y":2.427},{"x":11.902,"y":2.417},{"x":12.03,"y":2.419},{"x":12.08,"y":2.406},{"x":12.193,"y":2.423},{"x":12.205,"y":2.406},{"x":12.211,"y":2.383},{"x":12.216,"y":2.444},{"x":12.236,"y":2.433},{"x":12.243,"y":2.41},{"x":12.282,"y":2.391},{"x":12.323,"y":2.417},{"x":12.003,"y":2.397},{"x":12.014,"y":2.379},{"x":11.87,"y":2.322},{"x":11.937,"y":2.318},{"x":11.956,"y":2.289},{"x":11.98,"y":2.289},{"x":11.99,"y":2.333},{"x":12.069,"y":2.328},{"x":11.918,"y":2.266},{"x":12.149,"y":2.255},{"x":11.949,"y":2.209},{"x":11.86,"y":2.201},{"x":11.861,"y":2.184},{"x":11.98,"y":2.171},{"x":12.004,"y":2.186},{"x":12.021,"y":2.19},{"x":12.159,"y":2.18},{"x":12.209,"y":2.184},{"x":12.301,"y":2.211},{"x":11.96,"y":2.123},{"x":11.866,"y":2.075},{"x":11.882,"y":2.06},{"x":11.885,"y":2.029},{"x":11.905,"y":2.035},{"x":11.933,"y":2.02},{"x":11.999,"y":2.073},{"x":11.993,"y":2.048},{"x":11.98,"y":2.016},{"x":11.99,"y":2.016},{"x":12.021,"y":2.018},{"x":11.947,"y":1.993},{"x":11.959,"y":1.993},{"x":11.958,"y":1.949},{"x":11.873,"y":1.968},{"x":11.894,"y":1.951},{"x":12.147,"y":2.121},{"x":12.142,"y":2.067},{"x":12.127,"y":2.045},{"x":12.108,"y":2.012},{"x":12.077,"y":1.993},{"x":12.137,"y":1.993},{"x":12.154,"y":1.995},{"x":12.162,"y":1.945},{"x":12.168,"y":1.947},{"x":12.171,"y":1.947},{"x":12.229,"y":2.1},{"x":12.23,"y":2.058},{"x":12.242,"y":2.071},{"x":12.244,"y":2.123},{"x":12.226,"y":2.012},{"x":12.27,"y":2.13},{"x":12.28,"y":2.111},{"x":12.31,"y":2.125},{"x":12.323,"y":2.14},{"x":12.252,"y":1.951},{"x":12.259,"y":1.951},{"x":11.861,"y":1.918},{"x":11.869,"y":1.882},{"x":11.877,"y":1.884},{"x":11.86,"y":1.836},{"x":11.888,"y":1.855},{"x":11.898,"y":1.874},{"x":11.904,"y":1.861},{"x":12.011,"y":1.891},{"x":12.074,"y":1.922},{"x":12.157,"y":1.901},{"x":12.085,"y":1.847},{"x":12.067,"y":1.817},{"x":12.034,"y":1.805},{"x":12.041,"y":1.813},{"x":12.047,"y":1.798},{"x":12.05,"y":1.803},{"x":12.079,"y":1.794},{"x":12.106,"y":1.823},{"x":12.119,"y":1.838},{"x":12.125,"y":1.838},{"x":12.112,"y":1.781},{"x":12.122,"y":1.754},{"x":12.141,"y":1.866},{"x":12.006,"y":1.771},{"x":11.993,"y":1.74},{"x":11.964,"y":1.759},{"x":11.951,"y":1.756},{"x":11.892,"y":1.761},{"x":11.897,"y":1.786},{"x":11.9,"y":1.731},{"x":11.916,"y":1.725},{"x":11.924,"y":1.718},{"x":11.953,"y":1.693},{"x":11.989,"y":1.693},{"x":12.018,"y":1.698},{"x":12.018,"y":1.683},{"x":11.878,"y":1.683},{"x":11.883,"y":1.681},{"x":11.859,"y":1.689},{"x":11.858,"y":1.635},{"x":11.926,"y":1.66},{"x":11.937,"y":1.629},{"x":11.946,"y":1.641},{"x":11.95,"y":1.616},{"x":11.961,"y":1.66},{"x":11.918,"y":1.597},{"x":11.905,"y":1.553},{"x":11.886,"y":1.572},{"x":11.878,"y":1.559},{"x":11.879,"y":1.54},{"x":11.878,"y":1.521},{"x":11.853,"y":1.553},{"x":11.94,"y":1.578},{"x":11.922,"y":1.565},{"x":12.002,"y":1.616},{"x":11.856,"y":1.496},{"x":11.856,"y":1.459},{"x":11.875,"y":1.49},{"x":11.882,"y":1.471},{"x":11.865,"y":1.446},{"x":12.281,"y":2.031}
],
"tri":[
{"x":11.938,"y":1.522},{"x":11.947,"y":1.541},{"x":11.959,"y":1.509},{"x":11.986,"y":1.528},{"x":11.998,"y":1.566},{"x":12.008,"y":1.566},{"x":11.87,"y":1.415},{"x":11.901,"y":1.459},{"x":11.909,"y":1.478},{"x":11.899,"y":1.421},{"x":11.905,"y":1.421},{"x":11.914,"y":1.427},{"x":11.917,"y":1.39},{"x":11.904,"y":1.39},{"x":11.93,"y":1.421},{"x":11.951,"y":1.434},{"x":11.961,"y":1.415},{"x":11.97,"y":1.421},{"x":11.987,"y":1.402},{"x":12,"y":1.471},{"x":12.002,"y":1.421},{"x":11.996,"y":1.358},{"x":11.886,"y":1.39},{"x":11.873,"y":1.364},{"x":11.882,"y":1.346},{"x":11.9,"y":1.364},{"x":11.854,"y":1.377},{"x":11.856,"y":1.339},{"x":11.86,"y":1.295},{"x":11.867,"y":1.264},{"x":11.878,"y":1.283},{"x":11.9,"y":1.32},{"x":11.918,"y":1.27},{"x":11.923,"y":1.283},{"x":11.929,"y":1.308},{"x":11.94,"y":1.289},{"x":11.884,"y":1.245},{"x":11.912,"y":1.245},{"x":11.926,"y":1.232},{"x":11.943,"y":1.239},{"x":11.963,"y":1.289},{"x":11.969,"y":1.295},{"x":11.977,"y":1.32},{"x":11.974,"y":1.258},{"x":11.983,"y":1.245},{"x":11.991,"y":1.276},{"x":12,"y":1.283},{"x":12.007,"y":1.295},{"x":12.003,"y":1.232},{"x":11.956,"y":1.201},{"x":11.854,"y":1.22},{"x":11.865,"y":1.188},{"x":11.857,"y":1.157},{"x":11.882,"y":1.182},{"x":11.892,"y":1.176},{"x":11.897,"y":1.201},{"x":11.916,"y":1.188},{"x":11.925,"y":1.176},{"x":11.934,"y":1.17},{"x":11.874,"y":1.144},{"x":11.877,"y":1.119},{"x":11.854,"y":1.113},{"x":11.865,"y":1.113},
{"x":12.148,"y":1.723},{"x":12.076,"y":1.666},{"x":12.101,"y":1.648},{"x":12.123,"y":1.654},{"x":12.133,"y":1.673},{"x":12.049,"y":1.654},{"x":12.033,"y":1.635},{"x":12.028,"y":1.597},{"x":12.03,"y":1.566},{"x":12.036,"y":1.578},{"x":12.05,"y":1.553},{"x":12.069,"y":1.559},{"x":12.073,"y":1.61},{"x":12.077,"y":1.591},{"x":12.086,"y":1.572},{"x":12.09,"y":1.629},{"x":12.109,"y":1.629},{"x":12.111,"y":1.597},{"x":12.118,"y":1.591},{"x":12.128,"y":1.591},{"x":12.131,"y":1.629},{"x":12.142,"y":1.622},{"x":12.157,"y":1.629},{"x":12.156,"y":1.591},{"x":12.145,"y":1.566},{"x":12.137,"y":1.541},{"x":12.146,"y":1.541},{"x":12.161,"y":1.528},{"x":12.159,"y":1.578},{"x":12.112,"y":1.534},{"x":12.021,"y":1.503},{"x":12.039,"y":1.497},{"x":12.047,"y":1.49},{"x":12.041,"y":1.471},{"x":12.073,"y":1.497},{"x":12.084,"y":1.509},{"x":12.093,"y":1.497},{"x":12.095,"y":1.465},{"x":12.119,"y":1.471},{"x":12.125,"y":1.497},{"x":12.128,"y":1.453},{"x":12.158,"y":1.471},{"x":12.165,"y":1.478},{"x":12.012,"y":1.459},{"x":12.036,"y":1.453},{"x":12.029,"y":1.409},{"x":12.066,"y":1.421},{"x":12.073,"y":1.421},{"x":12.075,"y":1.364},{"x":12.099,"y":1.415},{"x":12.095,"y":1.396},{"x":12.139,"y":1.396},{"x":12.144,"y":1.402},{"x":12.15,"y":1.44},{"x":12.043,"y":1.377},{"x":12.058,"y":1.346},{"x":12.06,"y":1.308},{"x":12.09,"y":1.339},{"x":12.097,"y":1.333},{"x":12.103,"y":1.333},{"x":12.021,"y":1.327},{"x":12.023,"y":1.295},{"x":12.034,"y":1.302},{"x":12.037,"y":1.314},{"x":12.008,"y":1.302},{"x":12.028,"y":1.251},
{"x":12.3,"y":1.956},{"x":12.311,"y":1.924},{"x":12.239,"y":1.886},{"x":12.244,"y":1.861},{"x":12.231,"y":1.83},{"x":12.215,"y":1.817},{"x":12.201,"y":1.78},{"x":12.202,"y":1.754},{"x":12.174,"y":1.78},{"x":12.24,"y":1.78},{"x":12.296,"y":1.874},{"x":12.278,"y":1.811},{"x":12.294,"y":1.786},{"x":12.303,"y":1.798},{"x":12.316,"y":1.836},{"x":12.321,"y":1.842},{"x":12.271,"y":1.754},{"x":12.275,"y":1.717},{"x":12.281,"y":1.736},{"x":12.223,"y":1.736},{"x":12.224,"y":1.698},{"x":12.217,"y":1.692},{"x":12.316,"y":1.736},{"x":12.311,"y":1.685},{"x":12.283,"y":1.679},{"x":12.288,"y":1.679},{"x":12.281,"y":1.629},{"x":12.287,"y":1.635},{"x":12.297,"y":1.641},{"x":12.254,"y":1.692},{"x":12.256,"y":1.654},{"x":12.271,"y":1.629},{"x":12.27,"y":1.591},{"x":12.241,"y":1.616},{"x":12.305,"y":1.597},{"x":12.321,"y":1.61},{"x":12.184,"y":1.572},{"x":12.193,"y":1.572},{"x":12.249,"y":1.566},{"x":12.23,"y":1.559},{"x":12.219,"y":1.547},{"x":12.235,"y":1.553},{"x":12.189,"y":1.534},{"x":12.191,"y":1.503},{"x":12.201,"y":1.528},{"x":12.269,"y":1.528},{"x":12.254,"y":1.509},{"x":12.228,"y":1.515},{"x":12.211,"y":1.478},{"x":12.163,"y":1.597},{"x":12.165,"y":1.566},{"x":12.167,"y":1.465},{"x":12.165,"y":1.484}
]
},
"layer":[
{"data":{"name":"grid"},
 "mark":{"type":"point","shape":"M-1,-0.6H1V0.6H-1Z","filled":true,"size":272,"opacity":1,"strokeWidth":0,"clip":true},
 "encoding":{
  "x":{"field":"x","type":"quantitative","scale":{"domain":[11.8518,12.3248],"nice":false,"zero":false},
   "axis":{"orient":"bottom","values":[11.9,12,12.1,12.2,12.3],"format":".1f","title":"log Mvir (M⊙/h)","titleFont":"Liberation Serif","titleFontSize":22,"titleFontWeight":"normal","titleColor":"black","titlePadding":3,"labelFont":"Liberation Serif","labelFontSize":11,"labelColor":"#444","tickSize":-4,"tickColor":"#222","labelPadding":7}},
  "y":{"field":"y","type":"quantitative","scale":{"domain":[1.094,3.314],"nice":false,"zero":false},
   "axis":{"orient":"left","values":[1.5,2,2.5,3],"format":".1f","title":"log volhz (Mpc/h)³ com.","titleFont":"Liberation Serif","titleFontSize":22,"titleFontWeight":"normal","titleColor":"black","titlePadding":6,"labelFont":"Liberation Serif","labelFontSize":11,"labelColor":"#444","tickSize":-4,"tickColor":"#222","labelPadding":9}},
  "color":{"field":"z","type":"quantitative",
   "scale":{"domain":[0,0.36,0.409,1.112,1.226,2.093,2.158,2.91,2.976,3.27],"range":["#000080","#0000ff","#0000ff","#00dbff","#14ffe2","#eeff08","#ffec00","#ff1300","#e80000","#800000"],"interpolate":"rgb"},
   "legend":{"title":null,"orient":"right","offset":22,"padding":0,"direction":"vertical","gradientLength":353,"gradientThickness":19,"values":[0,0.4,0.8,1.2,1.6,2,2.4,2.8,3.2],"format":".1f","labelOverlap":false,"labelFont":"Liberation Serif","labelFontSize":11,"labelColor":"#333","labelOffset":4,"gradientStrokeColor":"#333","gradientStrokeWidth":1}}
 }},
{"data":{"name":"band"},
 "mark":{"type":"area","clip":true,"fill":"#000","fillOpacity":0.3,"stroke":"#1a1a1a","strokeWidth":0.8},
 "encoding":{
  "x":{"field":"x","type":"quantitative","axis":{"orient":"top","values":[11.9,12,12.1,12.2,12.3],"labels":false,"title":null,"tickSize":-4,"tickColor":"#222"}},
  "y":{"field":"hi","type":"quantitative","axis":{"orient":"right","values":[1.5,2,2.5,3],"labels":false,"title":null,"tickSize":-4,"tickColor":"#222"}},
  "y2":{"field":"lo"}
 }},
{"data":{"name":"black"},
 "mark":{"type":"point","shape":"diamond","filled":true,"size":34,"color":"black","opacity":1,"clip":true},
 "encoding":{"x":{"field":"x","type":"quantitative","axis":null},"y":{"field":"y","type":"quantitative","axis":null}}},
{"data":{"name":"tri"},
 "mark":{"type":"point","shape":"triangle-up","filled":true,"size":50,"fill":"white","stroke":"black","strokeWidth":1,"opacity":1,"clip":true},
 "encoding":{"x":{"field":"x","type":"quantitative","axis":null},"y":{"field":"y","type":"quantitative","axis":null}}}
],
"resolve":{"axis":{"x":"independent","y":"independent"}}
}
